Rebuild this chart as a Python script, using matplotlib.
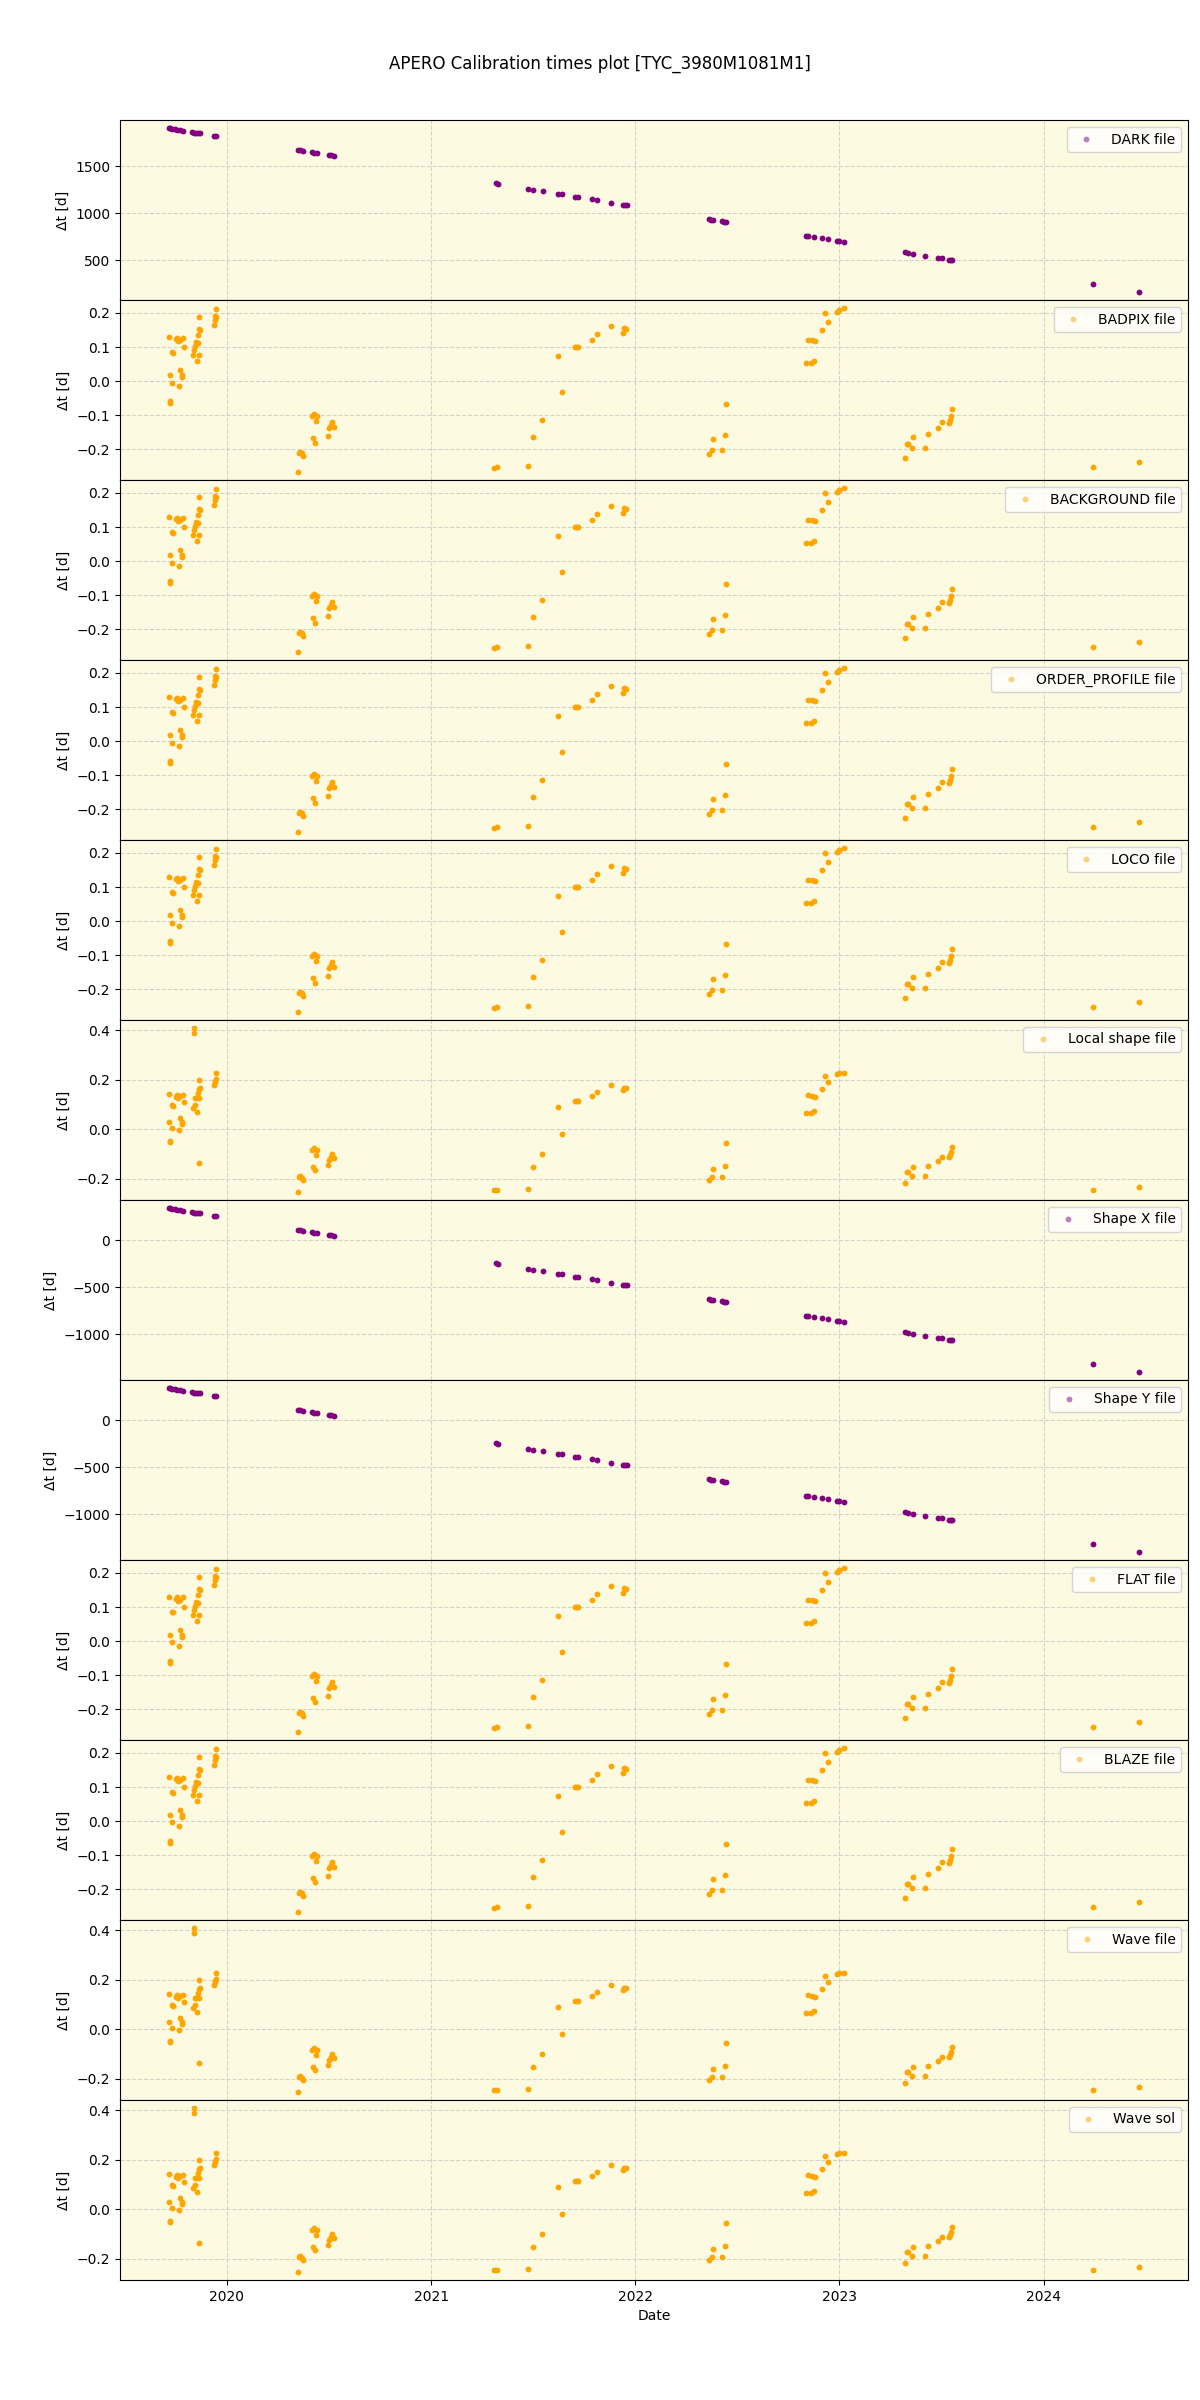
import datetime as dt
import matplotlib
matplotlib.use("Agg")
import matplotlib.pyplot as plt
import matplotlib.dates as mdates
from matplotlib.lines import Line2D

# ---------------- data (decimal years / days) ----------------
dark_dates = [2019.714, 2019.72, 2019.73, 2019.745, 2019.757, 2019.768, 2019.785,
              2019.83, 2019.84, 2019.85, 2019.858, 2019.868, 2019.937, 2019.945,
              2020.348, 2020.355, 2020.37, 2020.417, 2020.427, 2020.44, 2020.498, 2020.507, 2020.524,
              2021.314, 2021.327, 2021.471, 2021.5, 2021.545, 2021.618, 2021.642, 2021.705, 2021.718,
              2021.789, 2021.809, 2021.882, 2021.94, 2021.948, 2021.956,
              2022.358, 2022.37, 2022.378, 2022.422, 2022.435, 2022.446,
              2022.834, 2022.848, 2022.873, 2022.915, 2022.946, 2022.99, 2023.0, 2023.02,
              2023.322, 2023.337, 2023.358, 2023.42, 2023.485, 2023.5, 2023.538, 2023.548, 2023.552,
              2024.244, 2024.469]
dark_vals = [1906, 1903, 1899, 1894, 1889, 1885, 1879,
             1864, 1860, 1856, 1853, 1850, 1824, 1821,
             1675, 1672, 1667, 1649, 1646, 1641, 1620, 1617, 1611,
             1322, 1317, 1264, 1253, 1237, 1210, 1202, 1179, 1174,
             1149, 1142, 1115, 1094, 1091, 1088,
             939, 934, 930, 915, 910, 904,
             762, 757, 748, 733, 722, 707, 703, 695,
             585, 579, 571, 548, 525, 520, 506, 502, 501,
             249, 165]
shapex_vals = [342, 339, 335, 330, 325, 321, 315,
               300, 296, 292, 289, 286, 260, 257,
               111, 108, 103, 85, 82, 77, 56, 53, 47,
               -242, -247, -300, -311, -327, -354, -362, -385, -390,
               -415, -422, -449, -470, -473, -476,
               -625, -630, -634, -649, -654, -660,
               -802, -807, -816, -831, -842, -857, -861, -869,
               -979, -985, -993, -1016, -1039, -1044, -1058, -1062, -1063,
               -1315, -1399]
shapey_vals = [342, 339, 335, 330, 325, 321, 315,
               300, 296, 292, 289, 286, 260, 257,
               111, 108, 103, 85, 82, 77, 56, 53, 47,
               -242, -247, -300, -311, -327, -354, -362, -385, -390,
               -415, -422, -449, -470, -473, -476,
               -625, -630, -634, -649, -654, -660,
               -802, -807, -816, -831, -842, -857, -861, -869,
               -979, -985, -993, -1016, -1039, -1044, -1058, -1062, -1063,
               -1315, -1399]

cal_dates = [2019.716, 2019.719, 2019.721, 2019.722, 2019.731, 2019.731, 2019.735,
             2019.752, 2019.757, 2019.762, 2019.768, 2019.765, 2019.770, 2019.780, 2019.781,
             2019.785, 2019.789,
             2019.832, 2019.837, 2019.842, 2019.847, 2019.853, 2019.861, 2019.858, 2019.856,
             2019.863, 2019.868, 2019.861,
             2019.936, 2019.940, 2019.945, 2019.948, 2019.943,
             2020.348, 2020.351, 2020.358, 2020.365, 2020.373, 2020.417, 2020.427, 2020.440,
             2020.436, 2020.422, 2020.432, 2020.495, 2020.499, 2020.507, 2020.515, 2020.525,
             2021.307, 2021.320, 2021.471, 2021.500, 2021.544, 2021.618, 2021.642, 2021.703,
             2021.713, 2021.719, 2021.789, 2021.809, 2021.882, 2021.940, 2021.943, 2021.954,
             2022.358, 2022.373, 2022.378, 2022.422, 2022.441, 2022.446,
             2022.834, 2022.858, 2022.873, 2022.848, 2022.865, 2022.878, 2022.915, 2022.927,
             2022.946, 2022.990, 2022.999, 2023.020,
             2023.322, 2023.330, 2023.337, 2023.353, 2023.358, 2023.420, 2023.432, 2023.485,
             2023.500, 2023.538, 2023.543, 2023.548, 2023.552,
             2024.244, 2024.469]
cal_vals = [0.129, 0.019, -0.058, -0.065, -0.004, 0.086, 0.084,
            0.123, 0.128, 0.117, 0.120, -0.014, 0.034, 0.018, 0.013,
            0.128, 0.099,
            0.076, 0.092, 0.102, 0.115, 0.058, 0.077, 0.111, 0.135,
            0.153, 0.151, 0.188,
            0.166, 0.178, 0.188, 0.213, 0.190,
            -0.266, -0.210, -0.207, -0.212, -0.219, -0.101, -0.095, -0.103,
            -0.117, -0.168, -0.180, -0.161, -0.138, -0.130, -0.120, -0.134,
            -0.254, -0.252, -0.249, -0.163, -0.113, 0.075, -0.031, 0.101,
            0.101, 0.101, 0.121, 0.137, 0.163, 0.142, 0.155, 0.152,
            -0.215, -0.201, -0.169, -0.202, -0.157, -0.067,
            0.052, 0.052, 0.059, 0.122, 0.121, 0.117, 0.149, 0.201,
            0.174, 0.203, 0.210, 0.214,
            -0.226, -0.183, -0.183, -0.195, -0.163, -0.195, -0.155, -0.137,
            -0.121, -0.124, -0.114, -0.101, -0.083,
            -0.252, -0.237]

wave_dates = [2019.716, 2019.716, 2019.721, 2019.722, 2019.731, 2019.731, 2019.735,
              2019.752, 2019.757, 2019.762, 2019.768, 2019.785, 2019.765, 2019.770,
              2019.780, 2019.781, 2019.789,
              2019.832, 2019.846, 2019.842, 2019.847, 2019.853, 2019.861, 2019.858,
              2019.863, 2019.868, 2019.863, 2019.863, 2019.838, 2019.838,
              2019.936, 2019.940, 2019.945, 2019.948, 2019.943,
              2020.348, 2020.351, 2020.358, 2020.365, 2020.373, 2020.417, 2020.427, 2020.440,
              2020.436, 2020.422, 2020.432, 2020.495, 2020.499, 2020.507, 2020.515, 2020.525,
              2021.307, 2021.320, 2021.471, 2021.500, 2021.544, 2021.618, 2021.642, 2021.703,
              2021.713, 2021.719, 2021.789, 2021.809, 2021.882, 2021.940, 2021.943, 2021.954,
              2022.358, 2022.373, 2022.378, 2022.422, 2022.441, 2022.446,
              2022.834, 2022.858, 2022.873, 2022.848, 2022.865, 2022.878, 2022.915, 2022.927,
              2022.946, 2022.990, 2022.999, 2023.020,
              2023.322, 2023.330, 2023.337, 2023.353, 2023.358, 2023.420, 2023.432, 2023.485,
              2023.500, 2023.538, 2023.543, 2023.548, 2023.552,
              2024.244, 2024.469]
wave_vals = [0.143, 0.028, -0.047, -0.053, 0.005, 0.097, 0.096,
             0.131, 0.140, 0.126, 0.133, 0.140, -0.003, 0.046,
             0.028, 0.021, 0.112,
             0.087, 0.100, 0.128, 0.127, 0.070, 0.126, 0.145,
             0.164, 0.168, 0.200, -0.136, 0.408, 0.390,
             0.179, 0.196, 0.205, 0.226, 0.192,
             -0.252, -0.191, -0.187, -0.195, -0.205, -0.082, -0.077, -0.084,
             -0.103, -0.152, -0.166, -0.144, -0.124, -0.111, -0.100, -0.117,
             -0.246, -0.245, -0.241, -0.152, -0.101, 0.090, -0.020, 0.116,
             0.116, 0.116, 0.136, 0.152, 0.178, 0.159, 0.168, 0.168,
             -0.206, -0.191, -0.159, -0.194, -0.147, -0.055,
             0.066, 0.066, 0.074, 0.137, 0.136, 0.129, 0.164, 0.217,
             0.190, 0.222, 0.226, 0.227,
             -0.218, -0.174, -0.174, -0.187, -0.152, -0.187, -0.147, -0.129,
             -0.111, -0.113, -0.103, -0.090, -0.073,
             -0.246, -0.232]

panel_labels = ["DARK file", "BADPIX file", "BACKGROUND file", "ORDER_PROFILE file",
                "LOCO file", "Local shape file", "Shape X file", "Shape Y file",
                "FLAT file", "BLAZE file", "Wave file", "Wave sol"]
panel_kind = ["dark", "cal", "cal", "cal", "cal", "wave", "shapex", "shapey",
              "cal", "cal", "wave", "wave"]
title = "APERO Calibration times plot [TYC_3980M1081M1]"


def to_dt(y):
    year = int(y)
    start = dt.datetime(year, 1, 1)
    end = dt.datetime(year + 1, 1, 1)
    return start + (end - start) * (y - year)


series = {
    "dark": (dark_dates, dark_vals, "purple"),
    "shapex": (dark_dates, shapex_vals, "purple"),
    "shapey": (dark_dates, shapey_vals, "purple"),
    "cal": (cal_dates, cal_vals, "orange"),
    "wave": (wave_dates, wave_vals, "orange"),
}

fig, axes = plt.subplots(12, 1, figsize=(12, 24), dpi=100, sharex=True)
fig.subplots_adjust(left=0.1, right=0.99, top=0.95, bottom=0.05, hspace=0)

for ax, lab, kind in zip(axes, panel_labels, panel_kind):
    d, v, c = series[kind]
    x = [to_dt(t) for t in d]
    ax.set_facecolor("#fcfae1")
    ax.plot(x, v, ls="none", marker="o", ms=4.2, mew=0, color=c, zorder=3)
    h = Line2D([], [], ls="none", marker="o", ms=4.2, mew=0, color=c, alpha=0.5)
    ax.legend([h], [lab], loc="upper right", fontsize=10)
    ax.grid(True, linestyle="--", alpha=0.5)
    ax.set_ylabel("Δt [d]")

axes[-1].xaxis.set_major_locator(mdates.YearLocator())
axes[-1].xaxis.set_major_formatter(mdates.DateFormatter("%Y"))
axes[-1].set_xlabel("Date")
fig.suptitle(title, fontsize=12, y=0.977)

fig.savefig("out.png", dpi=100)
